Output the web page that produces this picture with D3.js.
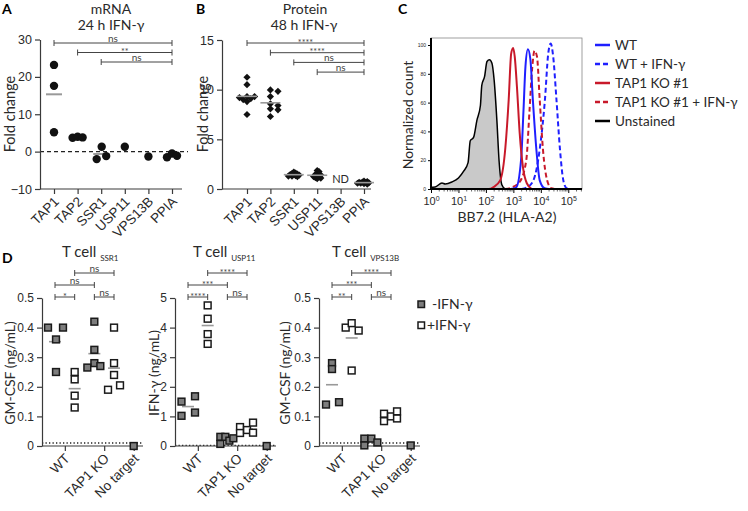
<!DOCTYPE html>
<html><head><meta charset="utf-8">
<script src="https://cdn.jsdelivr.net/npm/d3@7"></script>
<style>body{margin:0;background:#fff}svg{font-family:Lato,"Open Sans",sans-serif}</style>
</head><body><svg id="c" width="748" height="511"></svg>
<script>
// ===================== DATA =====================
// Panel A: mRNA fold change, 24 h IFN-γ
const genes = ["TAP1","TAP2","SSR1","USP11","VPS13B","PPIA"];
const mrnaTAP1 = [23.2, 17.6, 5.2];
const mrnaTAP2 = [3.7, 4.0, 3.8];
const mrnaSSR1 = [-2.0, 1.3, -1.2];
const mrnaUSP11 = [1.3];
const mrnaVPS13B = [-1.3];
const mrnaPPIA = [-1.5, -0.5, -1.1];
const aTicks = [-10, 0, 10, 20, 30];
const aBrackets = [["TAP1","PPIA","ns"],["TAP2","PPIA","**"],["SSR1","PPIA","ns"]];

// Panel B: protein fold change, 48 h IFN-γ
const protTAP1 = [11.25, 10.5, 9.3, 9.3, 9.2, 9.1, 9.0, 8.8, 7.5];
const protTAP2 = [9.97, 9.83, 9.3, 8.57, 8.4, 8.07, 7.97, 7.3];
const protSSR1 = [1.7, 1.6, 1.55, 1.5, 1.45, 1.45, 1.4, 1.35, 1.3, 1.3, 1.25];
const protUSP11 = [1.85, 1.75, 1.6, 1.5, 1.45, 1.4, 1.3, 1.25, 1.2, 1.15, 1.1, 1.05];
const protVPS13B = [];
const protPPIA = [0.8, 0.75, 0.7, 0.68, 0.65, 0.62, 0.6, 0.58, 0.55, 0.5];
const bTicks = [0, 5, 10, 15];
const bBrackets = [["TAP1","PPIA","****"],["TAP2","PPIA","****"],["SSR1","PPIA","ns"],["USP11","PPIA","ns"]];

// Panel C: histograms [log10 BB7.2 intensity, normalized count]
const histUnstained = [[0,0],[0,1.2],[0.15,1.4],[0.4,4.2],[0.52,3.5],[0.76,4.9],[1.0,7.7],[1.19,12.4],[1.35,18.3],[1.43,33.5],[1.55,35.8],[1.67,47.5],[1.8,58],[1.85,72],[1.95,78],[2.04,88.5],[2.13,89.7],[2.22,87.4],[2.3,75.6],[2.4,47.5],[2.48,19.4],[2.58,3],[2.7,0]];
const histTAP1KO = [[0,0],[2.1,0],[2.28,1.4],[2.52,6],[2.71,29],[2.83,62],[2.92,94],[2.99,98],[3.05,92],[3.13,71],[3.23,39],[3.35,15],[3.49,4],[3.67,0]];
const histWT = [[2.9,0],[3.1,1],[3.28,20],[3.37,55],[3.44,85],[3.53,97],[3.62,90],[3.71,62],[3.84,27],[3.96,6],[4.14,0.5],[4.3,0],[5.5,0]];
const histTAP1KOIFN = [[2.7,0],[2.93,1],[3.23,5],[3.47,20],[3.59,55],[3.69,85],[3.77,96],[3.86,92],[3.96,62],[4.08,27],[4.23,6],[4.38,0.5],[4.5,0]];
const histWTIFN = [[3.3,0],[3.49,1],[3.73,6],[3.97,29],[4.15,62],[4.27,94],[4.36,101],[4.45,92],[4.57,62],[4.7,27],[4.82,6],[4.94,0.5],[5.1,0],[5.5,0]];
const cYTicks = [0, 20, 40, 60, 80, 100];
const cXTicks = [0, 1, 2, 3, 4, 5];
const cLegend = ["WT", "WT + IFN-γ", "TAP1 KO #1", "TAP1 KO #1 + IFN-γ", "Unstained"];

// Panel D: T cell cytokine release
const dConditions = ["WT-", "WT+", "KO-", "KO+", "NT"];
const dCategories = ["WT", "TAP1 KO", "No target"];
// SSR1 T cell, GM-CSF
const ssr1WTminus = [0.40, 0.36, 0.40, 0.25];
const ssr1WTplus = [0.25, 0.225, 0.17, 0.13];
const ssr1KOminus = [0.42, 0.325, 0.28, 0.265, 0.27];
const ssr1KOplus = [0.40, 0.28, 0.24, 0.19, 0.205];
const ssr1NoTarget = [0.0];
// USP11 T cell, IFN-γ
const usp11WTminus = [1.5, 1.02, 1.68, 1.13];
const usp11WTplus = [4.75, 4.3, 3.78, 3.45];
const usp11KOminus = [0.31, 0.07, 0.31, 0.18, 0.26];
const usp11KOplus = [0.64, 0.44, 0.54, 0.79, 0.45];
const usp11NoTarget = [0.0];
// VPS13B T cell, GM-CSF
const vpsWTminus = [0.14, 0.28, 0.26, 0.148];
const vpsWTplus = [0.40, 0.415, 0.39, 0.255];
const vpsKOminus = [0.025, 0.002, 0.025, 0.012];
const vpsKOplus = [0.109, 0.084, 0.10, 0.117, 0.093];
const vpsNoTarget = [0.002];
const dGmTicks = [0, 0.1, 0.2, 0.3, 0.4, 0.5];
const dIfnTicks = [0, 1, 2, 3, 4, 5];
const dBrackets = [["WT-","WT+",0],["KO-","KO+",0],["WT-","KO-",1],["WT+","KO+",2]];
const ssr1Sig = ["*", "ns", "ns", "ns"];
const usp11Sig = ["****", "ns", "***", "****"];
const vpsSig = ["**", "ns", "***", "****"];

// ===================== DRAWING =====================
const svg = d3.select("#c");
const AX = "#3a3a3a", TXT = "#2a2a2a";

function label(t, x, y, opts = {}) {
  return svg.append("text").attr("x", x).attr("y", y)
    .attr("font-size", opts.size || 14).attr("fill", opts.fill || TXT)
    .attr("text-anchor", opts.anchor || "start")
    .attr("font-weight", opts.weight || "normal").text(t);
}
function vlabel(t, x, y, size) {
  svg.append("text").attr("transform", `translate(${x},${y}) rotate(-90)`)
    .attr("text-anchor", "middle").attr("dominant-baseline", "central")
    .attr("font-size", size || 14).attr("fill", TXT).text(t);
}
function styleAxis(g, fs) {
  g.selectAll("path,line").attr("stroke", AX).attr("stroke-width", 1.2);
  g.selectAll("text").attr("fill", TXT).attr("font-size", fs || 12).attr("font-family", null);
}
function bracket(g, x1, x2, y, txt) {
  g.append("line").attr("x1", x1).attr("x2", x2).attr("y1", y).attr("y2", y).attr("stroke", "#444").attr("stroke-width", 1);
  [x1, x2].forEach(x => g.append("line").attr("x1", x).attr("x2", x).attr("y1", y - 3).attr("y2", y + 3).attr("stroke", "#444").attr("stroke-width", 1));
  const star = txt.includes("*");
  g.append("text").attr("x", (x1 + x2) / 2).attr("y", star ? y + 2.5 : y - 1)
    .attr("text-anchor", "middle").attr("font-size", star ? 9 : 10).attr("fill", "#444").text(txt);
}
function rotatedXLabels(axisG, fs) {
  axisG.selectAll(".tick text").attr("x", 0).attr("y", 0).attr("dy", "0.35em")
    .attr("text-anchor", "end").attr("transform", "translate(2,10) rotate(-45)").attr("font-size", fs);
}

// ---------- Panel A ----------
label("A", 2, 14, {weight: "bold", size: 14, fill: "#000"});
label("mRNA", 111, 14, {anchor: "middle"});
label("24 h IFN-γ", 111, 30, {anchor: "middle"});
vlabel("Fold change", 9, 114, 14.5);
{
  const g = svg.append("g");
  const x = d3.scalePoint().domain(genes).range([54, 172]);
  const y = d3.scaleLinear().domain([-10, 30]).range([189, 39.5]);
  g.append("line").attr("x1", 40).attr("x2", 188).attr("y1", y(0)).attr("y2", y(0))
    .attr("stroke", "#222").attr("stroke-width", 1.2).attr("stroke-dasharray", "4,3");
  const ya = g.append("g").attr("transform", "translate(40,0)")
    .call(d3.axisLeft(y).tickValues(aTicks).tickSize(5).tickSizeOuter(0).tickPadding(3));
  styleAxis(ya, 12.5);
  const xa = g.append("g").attr("transform", `translate(0,${y(-10)})`)
    .call(d3.axisBottom(x).tickSize(5).tickSizeOuter(0));
  xa.select(".domain").remove();
  styleAxis(xa, 13.5); rotatedXLabels(xa, 13.5);
  g.append("line").attr("x1", 40).attr("x2", 182).attr("y1", y(-10)).attr("y2", y(-10)).attr("stroke", AX).attr("stroke-width", 1.2);
  const series = [mrnaTAP1, mrnaTAP2, mrnaSSR1, mrnaUSP11, mrnaVPS13B, mrnaPPIA];
  const jit = [[0,0,0],[-5,0,5],[-4.5,0.5,5],[0],[0],[-5,0,5]];
  series.forEach((vals, i) => {
    const cx = x(genes[i]);
    if (vals.length > 1) g.append("line").attr("x1", cx - 8).attr("x2", cx + 8)
      .attr("y1", y(d3.mean(vals))).attr("y2", y(d3.mean(vals))).attr("stroke", "#999").attr("stroke-width", 2);
    g.selectAll(null).data(vals).join("circle")
      .attr("cx", (d, j) => cx + jit[i][j]).attr("cy", d => y(d)).attr("r", 4.2).attr("fill", "#111");
  });
  aBrackets.forEach((b, k) => bracket(g, x(b[0]), x(b[1]), 43 + k * 9.5, b[2]));
}

// ---------- Panel B ----------
label("B", 196, 14, {weight: "bold", size: 14, fill: "#000"});
label("Protein", 305, 14, {anchor: "middle"});
label("48 h IFN-γ", 304, 30, {anchor: "middle"});
vlabel("Fold change", 202, 114, 14.5);
{
  const g = svg.append("g");
  const x = d3.scalePoint().domain(genes).range([247, 364]);
  const y = d3.scaleLinear().domain([0, 15]).range([189, 40]);
  const ya = g.append("g").attr("transform", "translate(222,0)")
    .call(d3.axisLeft(y).tickValues(bTicks).tickSize(5).tickSizeOuter(0).tickPadding(3));
  styleAxis(ya, 12.5);
  const xa = g.append("g").attr("transform", `translate(0,${y(0)})`)
    .call(d3.axisBottom(x).tickSize(5).tickSizeOuter(0));
  xa.select(".domain").remove();
  styleAxis(xa, 13.5); rotatedXLabels(xa, 13.5);
  g.append("line").attr("x1", 222).attr("x2", 371).attr("y1", y(0)).attr("y2", y(0)).attr("stroke", AX).attr("stroke-width", 1.2);
  const series = [protTAP1, protTAP2, protSSR1, protUSP11, protVPS13B, protPPIA];
  const minDist = [4.2, 4.2, 2.0, 2.0, 2.0, 1.8];
  const diamond = "M0,-3.6L3.6,0L0,3.6L-3.6,0Z";
  series.forEach((vals, i) => {
    const cx = x(genes[i]);
    if (!vals.length) {
      g.append("text").attr("x", cx).attr("y", 183).attr("text-anchor", "middle")
        .attr("font-size", 11).attr("fill", TXT).text("ND");
      return;
    }
    const placed = [], md = minDist[i];
    const offs = vals.map(v => {
      const py = y(v); let off = 0;
      for (let k = 0; k < 60; k++) {
        off = (k % 2 ? 1 : -1) * Math.ceil(k / 2) * md * 0.9;
        if (placed.every(p => Math.hypot(p[0] - off, p[1] - py) >= md)) break;
      }
      placed.push([off, py]); return off;
    });
    g.selectAll(null).data(vals).join("path").attr("d", diamond)
      .attr("transform", (d, j) => `translate(${cx + offs[j]},${y(d)})`).attr("fill", "#111");
    g.append("line").attr("x1", cx - 10).attr("x2", cx + 10)
      .attr("y1", y(d3.mean(vals))).attr("y2", y(d3.mean(vals))).attr("stroke", "#999").attr("stroke-width", 1.6);
  });
  bBrackets.forEach((b, k) => bracket(g, x(b[0]), x(b[1]), 43 + k * 9.7, b[2]));
}

// ---------- Panel C ----------
label("C", 398, 14, {weight: "bold", size: 14, fill: "#000"});
vlabel("Normalized count", 407, 115, 14);
label("BB7.2 (HLA-A2)", 507, 222, {anchor: "middle"});
{
  const g = svg.append("g");
  const x = d3.scaleLinear().domain([0, 5.5]).range([431, 582]);
  const y = d3.scaleLinear().domain([0, 100]).range([189, 45]);
  g.append("rect").attr("x", 431).attr("y", 38).attr("width", 151).attr("height", 151)
    .attr("fill", "none").attr("stroke", "#888").attr("stroke-width", 0.8);
  const line = d3.line().x(d => x(d[0])).y(d => y(d[1])).curve(d3.curveMonotoneX);
  const area = d3.area().x(d => x(d[0])).y0(y(0)).y1(d => y(d[1])).curve(d3.curveMonotoneX);
  g.append("path").datum(histUnstained).attr("d", area).attr("fill", "#c9c9c9");
  g.append("path").datum(histUnstained).attr("d", line).attr("fill", "none").attr("stroke", "#000").attr("stroke-width", 1.5);
  const BLUE = "#1f1fff", RED = "#c8192a";
  const curves = [[histWTIFN, BLUE, "5,3"], [histTAP1KOIFN, RED, "5,3"], [histWT, BLUE, null], [histTAP1KO, RED, null]];
  curves.forEach(([d, c, dash]) => g.append("path").datum(d).attr("d", line).attr("fill", "none")
    .attr("stroke", c).attr("stroke-width", 2).attr("stroke-dasharray", dash));
  const ya = g.append("g").attr("transform", "translate(431,0)")
    .call(d3.axisLeft(y).tickValues(cYTicks).tickSize(3).tickSizeOuter(0).tickPadding(2));
  ya.selectAll("line").attr("stroke", "#000");
  ya.selectAll("text").attr("font-size", 5).attr("fill", "#222").attr("font-family", null);
  ya.select(".domain").remove();
  g.append("line").attr("x1", 431).attr("x2", 431).attr("y1", 38).attr("y2", 189).attr("stroke", "#000").attr("stroke-width", 2);
  const minor = [];
  cXTicks.forEach(e => { for (let m = 2; m < 10; m++) { const v = e + Math.log10(m); if (v <= 5.5) minor.push(v); } });
  g.selectAll(null).data(minor).join("line").attr("x1", d => x(d)).attr("x2", d => x(d))
    .attr("y1", 189).attr("y2", 191.5).attr("stroke", "#000").attr("stroke-width", 0.6);
  const xa = g.append("g").attr("transform", "translate(0,189)")
    .call(d3.axisBottom(x).tickValues(cXTicks).tickSize(4).tickSizeOuter(0).tickFormat(() => ""));
  xa.select(".domain").remove();
  xa.selectAll("line").attr("stroke", "#000");
  xa.selectAll(".tick").append("text").attr("y", 16).attr("text-anchor", "middle").attr("fill", TXT)
    .attr("font-size", 11).attr("font-family", null)
    .each(function(d) {
      const t = d3.select(this);
      t.append("tspan").text("10");
      t.append("tspan").attr("dy", -4).attr("font-size", 7).text(d);
    });
  g.append("line").attr("x1", 430).attr("x2", 582).attr("y1", 189).attr("y2", 189).attr("stroke", "#000").attr("stroke-width", 2);
  const lst = [[BLUE, null], [BLUE, "5,3"], [RED, null], [RED, "5,3"], ["#000", null]];
  cLegend.forEach((t, i) => {
    const ly = 45 + i * 19;
    g.append("line").attr("x1", 595).attr("x2", 610).attr("y1", ly).attr("y2", ly)
      .attr("stroke", lst[i][0]).attr("stroke-width", 2.5).attr("stroke-dasharray", lst[i][1] ? "5,3" : null);
    g.append("text").attr("x", 615).attr("y", ly + 5).attr("font-size", 13.5).attr("fill", TXT).text(t);
  });
}

// ---------- Panel D ----------
label("D", 2, 263, {weight: "bold", size: 14, fill: "#000"});
function panelD(cfg) {
  const g = svg.append("g");
  const x0 = cfg.x0;
  const y = d3.scaleLinear().domain([0, cfg.max]).range([446, 298]);
  const x = d3.scalePoint().domain(dConditions).range([x0 + 13, x0 + 91.7]);
  const tickPos = [(x("WT-") + x("WT+")) / 2, (x("KO-") + x("KO+")) / 2, x("NT")];
  const xc = d3.scaleOrdinal().domain(dCategories).range(tickPos);
  g.append("line").attr("x1", x0).attr("x2", x0 + 101).attr("y1", y(cfg.lod)).attr("y2", y(cfg.lod))
    .attr("stroke", "#222").attr("stroke-width", 1.4).attr("stroke-dasharray", "1.3,2.2");
  const ya = g.append("g").attr("transform", `translate(${x0},0)`)
    .call(d3.axisLeft(y).tickValues(cfg.ticks).tickSize(5).tickSizeOuter(0).tickPadding(3)
      .tickFormat(cfg.max < 1 ? d3.format(".1f") : d3.format("d")));
  styleAxis(ya, 12);
  ya.selectAll(".tick text").filter(d => d === 0).text("0");
  const xa = g.append("g").attr("transform", `translate(0,446)`)
    .call(d3.axisBottom(xc).tickSize(5).tickSizeOuter(0));
  xa.select(".domain").remove();
  styleAxis(xa, 13.5); rotatedXLabels(xa, 13.5);
  g.append("line").attr("x1", x0).attr("x2", x0 + 101).attr("y1", 446).attr("y2", 446).attr("stroke", AX).attr("stroke-width", 1.2);
  cfg.series.forEach((vals, i) => {
    const cx = x(dConditions[i]);
    const filled = i % 2 === 0;
    if (vals.length > 1) g.append("line").attr("x1", cx - 6).attr("x2", cx + 6)
      .attr("y1", y(d3.mean(vals))).attr("y2", y(d3.mean(vals))).attr("stroke", "#999").attr("stroke-width", 1.6);
    g.selectAll(null).data(vals).join("rect")
      .attr("x", (d, j) => cx + cfg.jit[i][j] - 3.4).attr("y", d => y(d) - 3.4)
      .attr("width", 6.8).attr("height", 6.8)
      .attr("fill", filled ? "#7d7d7d" : "#fff").attr("stroke", "#1a1a1a").attr("stroke-width", 1.5);
  });
  const levels = [297, 285, 273];
  dBrackets.forEach((b, k) => bracket(g, x(b[0]), x(b[1]), levels[b[2]], cfg.sig[k]));
  const tt = svg.append("text").attr("x", cfg.tx).attr("y", 257).attr("font-size", 15).attr("fill", TXT);
  tt.append("tspan").text("T cell ");
  tt.append("tspan").attr("font-size", 8).attr("dy", 4).text(cfg.sub);
  vlabel(cfg.ylab, cfg.ylx, 373, 14);
}
panelD({x0: 42, max: 0.5, ticks: dGmTicks, lod: 0.01, tx: 62, sub: "SSR1", ylab: "GM-CSF (ng/mL)", ylx: 9,
  series: [ssr1WTminus, ssr1WTplus, ssr1KOminus, ssr1KOplus, ssr1NoTarget],
  jit: [[-7, 1, 8, 1], [0, 0, 0, 0], [0, 0, 0, -7, 6], [0, 0, 0, -6, 6], [0]], sig: ssr1Sig});
panelD({x0: 175, max: 5, ticks: dIfnTicks, lod: 0.02, tx: 193, sub: "USP11", ylab: "IFN-γ (ng/mL)", ylx: 153,
  series: [usp11WTminus, usp11WTplus, usp11KOminus, usp11KOplus, usp11NoTarget],
  jit: [[-6.5, -6.5, 7, 7], [0, 0, 0, 0], [-7, -7, -2, 2, 6], [-7, -7, 0, 6, 6], [0]], sig: usp11Sig});
panelD({x0: 319, max: 0.5, ticks: dGmTicks, lod: 0.01, tx: 332, sub: "VPS13B", ylab: "GM-CSF (ng/mL)", ylx: 284,
  series: [vpsWTminus, vpsWTplus, vpsKOminus, vpsKOplus, vpsNoTarget],
  jit: [[-6, 0, 0, 7], [-6, 0, 7, 0], [-7, -7, 0, 6], [-7, -7, 0, 6, 6], [0]], sig: vpsSig});
svg.append("rect").attr("x", 418).attr("y", 301).attr("width", 6.5).attr("height", 6.5).attr("fill", "#7d7d7d").attr("stroke", "#1a1a1a").attr("stroke-width", 1.5);
label("-IFN-γ", 432, 309, {size: 14});
svg.append("rect").attr("x", 418).attr("y", 322).attr("width", 6.5).attr("height", 6.5).attr("fill", "#fff").attr("stroke", "#1a1a1a").attr("stroke-width", 1.5);
label("+IFN-γ", 427, 330, {size: 14});
</script></body></html>
